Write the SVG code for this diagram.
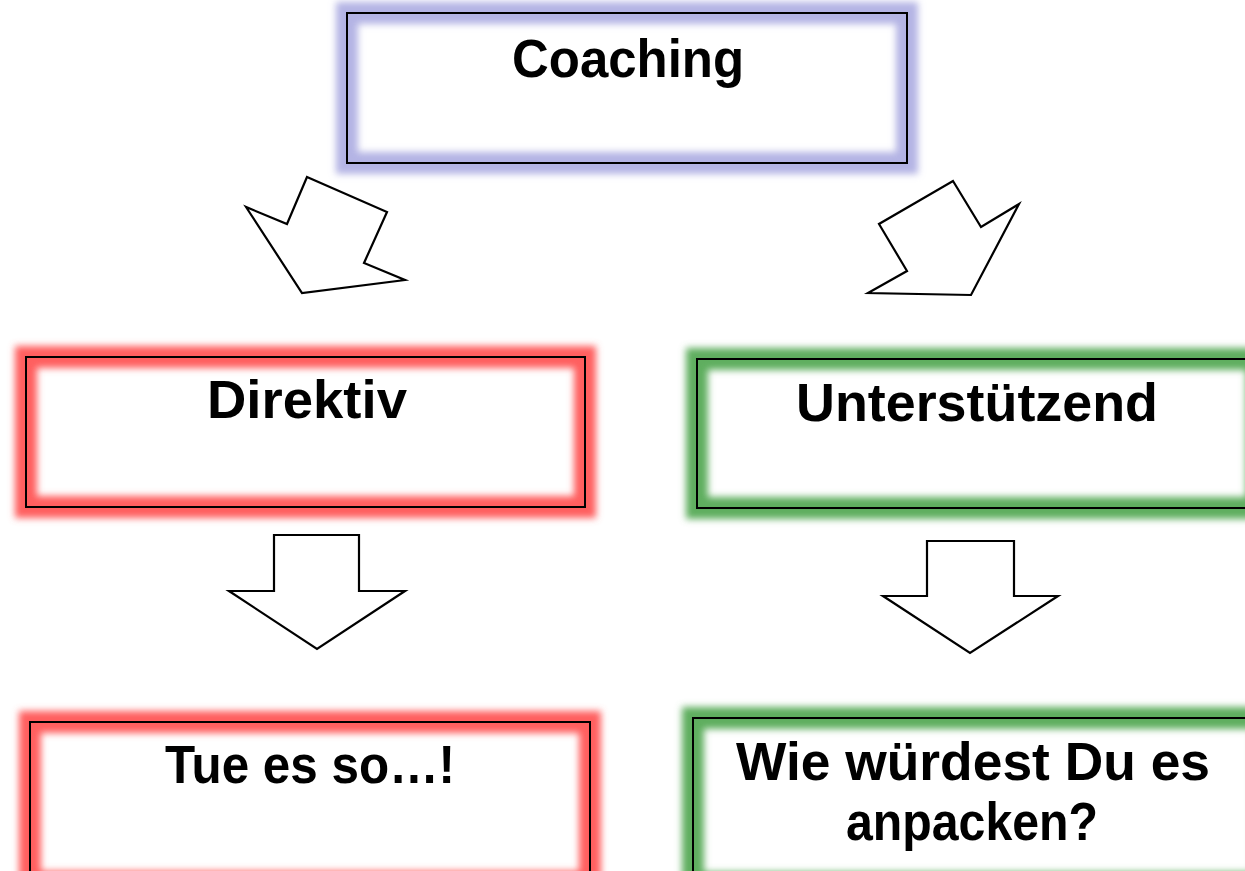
<svg xmlns="http://www.w3.org/2000/svg" width="1245" height="871" viewBox="0 0 1245 871">
<defs>
<filter id="glow" x="-10%" y="-25%" width="120%" height="150%">
<feGaussianBlur stdDeviation="3.5"/>
</filter>
<style>
.bg{fill:#ffffff;stroke:none}
.border{fill:none;stroke:#000000;stroke-width:2}
.gb{fill:none;stroke:#b4b4e4;stroke-width:22;filter:url(#glow)}
.gr{fill:none;stroke:#ff5e5e;stroke-width:22;filter:url(#glow)}
.gg{fill:none;stroke:#5fae5f;stroke-width:22;filter:url(#glow)}
.lbl{font-family:"Liberation Sans",Arial,sans-serif;font-weight:bold;font-size:53px;fill:#000000;text-anchor:middle}
.arr{fill:#ffffff;stroke:#000000;stroke-width:2.2;stroke-linejoin:miter}
</style>
</defs>
<rect width="1245" height="871" fill="#ffffff"/>
<g id="connectors">
<polygon class="arr" points="307,177 387,212 364,263 405,280 302,293 246,207 287,224"/>
<polygon class="arr" points="953,181 981,227 1019,204 971,295 868,293 907,271 879,224"/>
<polygon class="arr" points="274,535 359,535 359,591 405,591 317,649 229,591 274,591"/>
<polygon class="arr" points="927,541 1014,541 1014,596 1058,596 970,653 883,596 927,596"/>
</g>
<g id="node-coaching">
<rect class="bg" x="347" y="13" width="560" height="150"/>
<rect class="gb" x="347" y="13" width="560" height="150"/>
<rect class="border" x="347" y="13" width="560" height="150"/>
<text class="lbl" x="628" y="77" textLength="232" lengthAdjust="spacingAndGlyphs">Coaching</text>
</g>
<g id="node-direktiv">
<rect class="bg" x="26" y="357" width="559" height="150"/>
<rect class="gr" x="26" y="357" width="559" height="150"/>
<rect class="border" x="26" y="357" width="559" height="150"/>
<text class="lbl" x="307" y="418" textLength="200" lengthAdjust="spacingAndGlyphs">Direktiv</text>
</g>
<g id="node-unterstuetzend">
<rect class="bg" x="697" y="359" width="560" height="149"/>
<rect class="gg" x="697" y="359" width="560" height="149"/>
<rect class="border" x="697" y="359" width="560" height="149"/>
<text class="lbl" x="977" y="421" textLength="362" lengthAdjust="spacingAndGlyphs">Unterstützend</text>
</g>
<g id="node-tue">
<rect class="bg" x="30" y="722" width="560" height="160"/>
<rect class="gr" x="30" y="722" width="560" height="160"/>
<rect class="border" x="30" y="722" width="560" height="160"/>
<text class="lbl" x="310" y="783" textLength="290" lengthAdjust="spacingAndGlyphs">Tue es so…!</text>
</g>
<g id="node-wie">
<rect class="bg" x="693" y="718" width="570" height="165"/>
<rect class="gg" x="693" y="718" width="570" height="165"/>
<rect class="border" x="693" y="718" width="570" height="165"/>
<text class="lbl" x="973" y="780" textLength="474" lengthAdjust="spacingAndGlyphs">Wie würdest Du es</text>
<text class="lbl" x="972" y="840" textLength="252" lengthAdjust="spacingAndGlyphs">anpacken?</text>
</g>
</svg>
